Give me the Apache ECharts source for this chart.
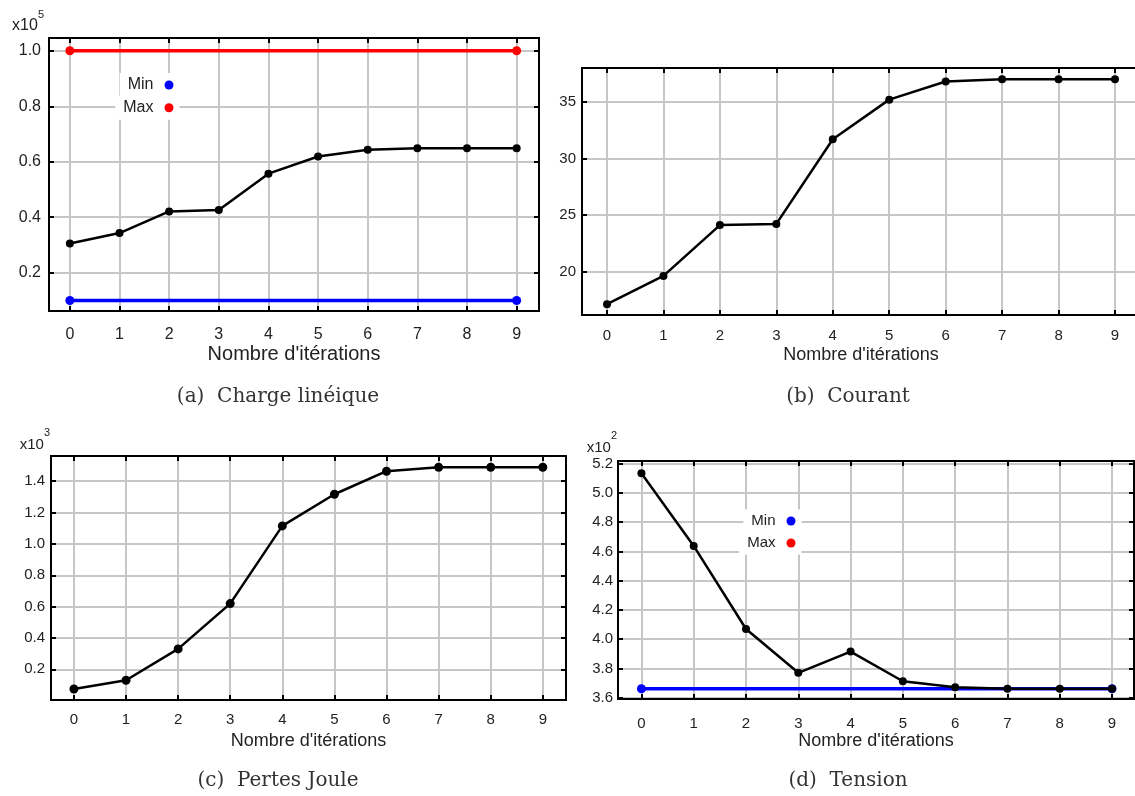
<!DOCTYPE html>
<html>
<head>
<meta charset="utf-8">
<script src="https://cdn.jsdelivr.net/npm/echarts@6/dist/echarts.min.js"></script>
<style>
html,body{margin:0;padding:0;background:#fff;overflow:hidden;}
#chart{width:1135px;height:796px;}
</style>
</head>
<body>
<div id="chart"></div>
<script>
// ---------------- data ----------------
const iterations = [0, 1, 2, 3, 4, 5, 6, 7, 8, 9];
const boundIters = [0, 9];

const chargeLineique = [30500, 34300, 42100, 42600, 55700, 61900, 64300, 64900, 64900, 64900];
const chargeMin = [10000, 10000];
const chargeMax = [100000, 100000];

const courant = [17.1, 19.6, 24.1, 24.2, 31.7, 35.2, 36.8, 37.0, 37.0, 37.0];

const pertesJoule = [74, 130, 330, 619, 1115, 1317, 1464, 1489, 1489, 1489];

const tension = [513.4, 463.7, 407.0, 377.1, 391.6, 371.3, 367.3, 366.2, 366.2, 366.2];
const tensionMin = [366.2, 366.2];
const tensionMax = [];

const xName = "Nombre d'itérations";
const captions = ['(a)  Charge linéique', '(b)  Courant', '(c)  Pertes Joule', '(d)  Tension'];
const exponents = ['5', null, '3', '2'];
const yScales = [1e5, 1, 1e3, 1e2];
const yDecimals = [1, 0, 1, 1];
const yTickSteps = [20000, 5, 200, 20];

// ---------------- layout ----------------
const FONT = "'Liberation Sans', Arial, Helvetica, sans-serif";
const SERIF = "'DejaVu Serif', 'Liberation Serif', serif";
const TXT = '#222';
const GRIDC = '#c6c6c6';

const panels = [
  {grid:{left:49, top:38, width:490, height:273}, x:[-0.42, 9.45], y:[6200, 104600], ySplit:5,
   fs:16, nameFs:20, nameGap:33, xMargin:16, yMargin:8, expFs:16, expDx:5, expDy:4, sym:8},
  {grid:{left:582, top:68, width:558, height:247}, x:[-0.443, 9.443], y:[16.14, 38.0], ySplit:5,
   fs:15, nameFs:18, nameGap:31, xMargin:13, yMargin:6, expFs:15, expDx:1, expDy:4, sym:8},
  {grid:{left:51, top:456, width:515, height:244}, x:[-0.44, 9.445], y:[4, 1561], ySplit:8,
   fs:15, nameFs:18, nameGap:32, xMargin:12, yMargin:6, expFs:15, expDx:1, expDy:4, sym:9},
  {grid:{left:618, top:461, width:516, height:238}, x:[-0.448, 9.42], y:[359.2, 521.7], ySplit:8,
   fs:15, nameFs:18, nameGap:33, xMargin:17, yMargin:5, expFs:15, expDx:1, expDy:6, sym:8}
];

function isMultiple(v, step) {
  const r = v / step;
  return Math.abs(r - Math.round(r)) < 1e-6;
}

const grids = [], xAxes = [], yAxes = [];
panels.forEach((p, i) => {
  grids.push(Object.assign({show:true, z:5, backgroundColor:'transparent', borderColor:'#000', borderWidth:2,
    containLabel:false, outerBoundsMode:'none'}, p.grid));
  const yStep = yTickSteps[i];
  const tickStyle = {inside:true, length:5, lineStyle:{color:'#000', width:2}};
  const noLine = {show:false, onZero:false};
  xAxes.push({
    gridIndex:i, type:'value', position:'bottom', min:p.x[0], max:p.x[1],
    splitNumber:10, minInterval:1,
    name:xName, nameLocation:'middle', nameGap:p.nameGap,
    nameTextStyle:{fontFamily:FONT, fontSize:p.nameFs, color:TXT},
    axisLine:noLine,
    axisTick:tickStyle,
    axisLabel:{fontFamily:FONT, fontSize:p.fs, color:TXT, margin:p.xMargin, showMinLabel:true, showMaxLabel:true,
      formatter:v => isMultiple(v, 1) ? String(Math.round(v)) : ''},
    splitLine:{show:true, lineStyle:{color:GRIDC, width:2}}
  });
  xAxes.push({
    gridIndex:i, type:'value', position:'top', min:p.x[0], max:p.x[1],
    splitNumber:10, minInterval:1,
    axisLine:noLine, axisTick:tickStyle, axisLabel:{show:false}, splitLine:{show:false}
  });
  yAxes.push({
    gridIndex:i, type:'value', position:'left', min:p.y[0], max:p.y[1], splitNumber:p.ySplit,
    axisLine:noLine,
    axisTick:tickStyle,
    axisLabel:{fontFamily:FONT, fontSize:p.fs, color:TXT, margin:p.yMargin, showMinLabel:true, showMaxLabel:true,
      formatter:v => isMultiple(v, yStep) ? (v / yScales[i]).toFixed(yDecimals[i]) : ''},
    splitLine:{show:true, lineStyle:{color:GRIDC, width:2}}
  });
  yAxes.push({
    gridIndex:i, type:'value', position:'right', min:p.y[0], max:p.y[1], splitNumber:p.ySplit,
    axisLine:noLine, axisTick:tickStyle, axisLabel:{show:false}, splitLine:{show:false}
  });
});

function pairs(xs, ys) { return ys.map((y, k) => [xs[k], y]); }

function blackSeries(name, gi, values, sym) {
  return {
    name, type:'line', xAxisIndex:gi * 2, yAxisIndex:gi * 2,
    data:pairs(iterations, values), symbol:'circle', symbolSize:sym, showSymbol:true,
    lineStyle:{color:'#000', width:2.5}, itemStyle:{color:'#000'}, z:4
  };
}
function boundSeries(name, gi, values, color) {
  return {
    name, type:'line', xAxisIndex:gi * 2, yAxisIndex:gi * 2,
    data:pairs(boundIters, values), symbol:'circle', symbolSize:9, showSymbol:true,
    lineStyle:{color, width:3.5}, itemStyle:{color}, z:3
  };
}

const series = [
  boundSeries('Min', 0, chargeMin, '#0000ff'),
  boundSeries('Max', 0, chargeMax, '#ff0000'),
  blackSeries('Charge linéique', 0, chargeLineique, 8),
  blackSeries('Courant', 1, courant, 8),
  blackSeries('Pertes Joule', 2, pertesJoule, 9),
  boundSeries('Min', 3, tensionMin, '#0000ff'),
  boundSeries('Max', 3, tensionMax, '#ff0000'),
  blackSeries('Tension', 3, tension, 8)
];

function legendItem(name, rightEdge, centerY, fs) {
  const h = fs;
  return {
    data:[name], orient:'vertical', align:'right', icon:'circle', itemWidth:9, itemHeight:9,
    right:1135 - rightEdge - 6, top:centerY - h / 2 - 4,
    padding:[4, 6, 4, 8], backgroundColor:'#fff', selectedMode:false, z:6,
    textStyle:{fontFamily:FONT, fontSize:fs, color:TXT, padding:[0, 6, 0, 0]}
  };
}

const legends = [
  legendItem('Min', 173.5, 85, 16),
  legendItem('Max', 173.5, 107.7, 16),
  legendItem('Min', 795.5, 521, 15),
  legendItem('Max', 795.5, 543, 15)
];

const capPos = [[278, 397], [848, 397], [278, 781], [848, 781]];
const graphic = captions.map((c, i) => ({
  type:'text', x:capPos[i][0], y:capPos[i][1], z:10,
  style:{text:c, fill:'#333', font:'20px ' + SERIF, textAlign:'center', textVerticalAlign:'middle'}
}));
panels.forEach((p, i) => {
  if (!exponents[i]) return;
  graphic.push({
    type:'text', x:p.grid.left - p.expDx, y:p.grid.top - p.expDy, z:10,
    style:{
      text:'{b|x10}{s|' + exponents[i] + '}', textAlign:'right', textVerticalAlign:'bottom',
      rich:{
        b:{fontFamily:FONT, fontSize:p.expFs, fill:TXT, color:TXT, verticalAlign:'bottom', lineHeight:25},
        s:{fontFamily:FONT, fontSize:11, fill:TXT, color:TXT, verticalAlign:'top', lineHeight:25}
      }
    }
  });
});

const chart = echarts.init(document.getElementById('chart'), null, {renderer:'canvas'});
chart.setOption({
  animation:false,
  backgroundColor:'#fff',
  grid:grids, xAxis:xAxes, yAxis:yAxes, series, legend:legends, graphic
});
</script>
</body>
</html>
